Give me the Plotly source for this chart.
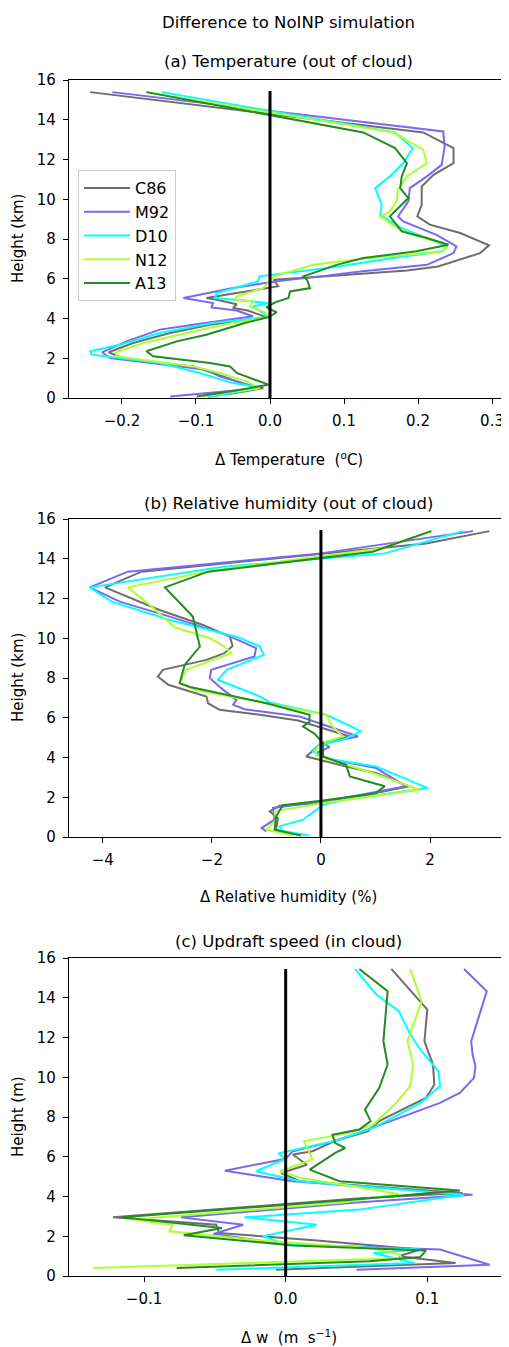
import plotly.graph_objects as go

W, H = 509, 1347
OFF = 8  # the page body margin offsets the figure by this many pixels
FW, FH = W - OFF, H - OFF

names = ["C86", "M92", "D10", "N12", "A13"]
colors = ["#6e6e6e", "#7b68ee", "#00ffff", "#adff2f", "#228b22"]

# ---------------- Panel (a): temperature difference (degC) vs height (km)
ta_c86_h = [15.39, 13.36, 12.57, 11.82, 11.23, 10.64, 9.72, 9.14, 8.72, 8.30, 7.68, 7.29, 6.62, 6.42, 6.12, 5.95, 5.62, 5.53, 5.28, 5.03, 4.94, 4.72, 4.53, 4.4, 4.07, 3.69, 3.27, 2.77, 2.30, 1.93, 1.59, 1.26, 0.67, 0.50, 0.17]
ta_c86_x = [-0.243, 0.207, 0.248, 0.248, 0.221, 0.205, 0.205, 0.199, 0.216, 0.257, 0.296, 0.284, 0.227, 0.185, 0.077, 0.005, 0.011, -0.005, -0.045, -0.086, -0.072, -0.045, -0.050, -0.030, -0.005, -0.081, -0.135, -0.185, -0.218, -0.194, -0.104, -0.077, -0.032, -0.009, -0.059]

ta_m92_h = [15.39, 13.41, 12.65, 11.73, 11.15, 10.56, 9.89, 9.14, 8.88, 8.21, 7.63, 7.29, 6.70, 6.37, 6.12, 5.87, 5.53, 5.03, 4.78, 4.56, 4.4, 4.11, 3.69, 3.44, 2.85, 2.30, 2.01, 1.42, 1.09, 0.67, 0.50, 0.08]
ta_m92_x = [-0.213, 0.234, 0.236, 0.232, 0.212, 0.189, 0.187, 0.173, 0.180, 0.225, 0.252, 0.248, 0.212, 0.122, 0.068, 0.009, -0.050, -0.117, -0.077, -0.079, -0.045, -0.023, -0.104, -0.149, -0.194, -0.227, -0.216, -0.086, -0.068, -0.027, -0.014, -0.135]

ta_d10_h = [15.39, 13.36, 12.57, 11.82, 11.15, 10.56, 9.72, 9.22, 8.6, 8.05, 7.63, 7.38, 7.12, 6.6, 6.20, 6.12, 5.87, 5.28, 5.03, 4.85, 4.78, 4.6, 4.07, 3.77, 3.27, 2.68, 2.35, 2.18, 1.76, 1.26, 0.75, 0.62, 0.50, 0.02]
ta_d10_x = [-0.146, 0.169, 0.193, 0.180, 0.162, 0.142, 0.151, 0.149, 0.175, 0.212, 0.239, 0.234, 0.180, 0.090, 0.005, -0.014, -0.016, -0.072, -0.074, -0.025, -0.002, -0.023, 0.000, -0.077, -0.149, -0.203, -0.243, -0.241, -0.149, -0.095, -0.050, -0.027, -0.014, -0.085]

ta_n12_h = [15.39, 13.36, 12.49, 11.82, 11.15, 10.48, 9.89, 9.39, 9.14, 8.6, 8.21, 7.71, 7.38, 7.16, 6.96, 6.70, 6.12, 5.53, 5.11, 4.95, 4.86, 4.6, 4.35, 4.07, 3.69, 3.27, 2.77, 2.30, 2.10, 1.59, 1.26, 0.84, 0.50, 0.08]
ta_n12_x = [-0.167, 0.167, 0.207, 0.212, 0.185, 0.173, 0.171, 0.162, 0.149, 0.170, 0.194, 0.239, 0.234, 0.167, 0.113, 0.059, 0.005, -0.009, -0.045, -0.047, -0.023, -0.027, -0.009, 0.000, -0.063, -0.113, -0.171, -0.209, -0.207, -0.104, -0.068, -0.032, -0.014, -0.095]

ta_a13_h = [15.39, 13.36, 12.57, 11.82, 11.15, 10.56, 10.06, 9.14, 8.38, 8.05, 7.71, 7.38, 7.04, 6.70, 6.12, 5.95, 5.53, 5.36, 5.03, 4.81, 4.56, 4.31, 4.07, 3.77, 3.18, 2.85, 2.35, 2.10, 1.76, 1.59, 1.26, 0.67, 0.35, 0.08]
ta_a13_x = [-0.167, 0.126, 0.169, 0.185, 0.178, 0.176, 0.187, 0.162, 0.178, 0.212, 0.241, 0.198, 0.126, 0.090, 0.045, 0.050, 0.054, 0.027, 0.025, 0.007, -0.005, 0.009, -0.002, -0.034, -0.086, -0.126, -0.167, -0.158, -0.081, -0.054, -0.045, -0.002, -0.050, -0.099]

# ---------------- Panel (b): relative humidity difference (%) vs height (km)
rh_c86_h = [15.39, 14.77, 13.35, 12.56, 11.42, 10.67, 10.08, 9.61, 9.25, 8.91, 8.41, 8.07, 7.66, 7.07, 6.73, 6.40, 6.15, 5.86, 5.06, 4.72, 4.05, 3.55, 3.22, 2.55, 2.1, 1.71, 1.57, 1.29, 0.95, 0.37, 0.10]
rh_c86_x = [3.09, 1.93, -3.29, -3.96, -2.96, -2.16, -1.67, -1.62, -1.77, -2.10, -2.90, -2.99, -2.80, -2.10, -2.07, -1.86, -1.12, -0.42, 0.53, 0.00, -0.27, 0.46, 1.01, 1.62, 0.80, 0.04, -0.76, -0.94, -0.79, -0.82, -0.40]

rh_m92_h = [15.39, 14.27, 13.35, 12.56, 11.84, 11.09, 10.17, 9.50, 9.08, 8.41, 8.00, 7.49, 6.90, 6.65, 6.43, 6.06, 5.06, 4.72, 4.52, 4.22, 3.95, 3.47, 2.55, 1.90, 1.46, 0.87, 0.45, 0.28]
rh_m92_x = [2.79, 0.00, -3.54, -4.24, -3.69, -2.77, -1.73, -1.19, -1.22, -2.01, -2.04, -1.83, -1.55, -1.61, -1.40, -0.39, 0.68, 0.04, 0.16, -0.09, 0.10, 1.01, 1.56, 0.30, -0.88, -0.85, -1.09, -1.00]

rh_d10_h = [15.39, 14.27, 13.60, 12.56, 11.84, 10.92, 10.08, 9.58, 9.16, 8.41, 7.91, 7.07, 6.77, 6.15, 5.31, 4.89, 4.60, 4.30, 3.95, 3.55, 2.46, 1.90, 1.62, 0.87, 0.54, 0.30, 0.07]
rh_d10_x = [2.60, 1.17, -1.80, -4.24, -3.84, -2.77, -1.55, -1.12, -1.05, -1.73, -1.89, -1.12, -0.94, 0.10, 0.74, 0.40, -0.05, -0.15, 0.10, 1.01, 1.96, 0.50, 0.04, -0.33, -0.76, -0.70, -0.21]

rh_n12_h = [15.39, 14.52, 13.40, 12.56, 11.67, 10.55, 10.00, 9.58, 9.25, 8.41, 7.74, 7.40, 6.73, 6.15, 5.60, 5.06, 4.72, 4.35, 4.10, 3.63, 3.22, 2.38, 1.90, 1.71, 1.29, 0.87, 0.37, 0.07]
rh_n12_x = [2.04, 1.08, -2.00, -3.54, -3.14, -2.68, -2.04, -1.77, -1.64, -2.47, -2.59, -2.30, -1.00, 0.10, 0.20, 0.40, 0.00, -0.10, -0.08, 0.49, 0.95, 1.81, 0.60, 0.04, -0.85, -0.82, -1.00, -0.50]

rh_a13_h = [15.39, 14.35, 13.35, 12.56, 11.09, 9.58, 8.66, 7.74, 7.55, 6.73, 6.15, 5.80, 5.56, 5.20, 4.72, 4.05, 3.63, 3.05, 2.55, 2.20, 1.84, 1.60, 1.04, 0.37, 0.07]
rh_a13_x = [2.02, 0.95, -2.07, -2.86, -2.35, -2.22, -2.50, -2.59, -2.40, -1.00, -0.21, -0.21, -0.33, -0.12, 0.04, 0.04, 0.46, 0.53, 1.17, 1.00, 0.04, -0.70, -0.82, -0.85, -0.36]

# ---------------- Panel (c): updraft speed difference (m/s) vs height
w_c86_h = [15.45, 13.41, 11.81, 10.64, 9.63, 8.96, 7.79, 7.28, 6.80, 6.28, 6.11, 5.60, 5.18, 4.77, 4.18, 3.90, 2.95, 2.58, 2.16, 1.80, 1.33, 0.99, 0.65, 0.32]
w_c86_x = [0.0746, 0.100, 0.098, 0.104, 0.105, 0.099, 0.066, 0.058, 0.035, 0.019, 0.005, 0.015, -0.003, 0.010, 0.125, 0.050, -0.122, -0.049, -0.047, 0.020, 0.095, 0.080, 0.120, -0.007]

w_m92_h = [15.45, 14.33, 11.81, 11.14, 10.55, 9.97, 9.21, 8.71, 7.53, 6.80, 6.28, 5.90, 5.30, 4.77, 4.09, 3.70, 2.95, 2.58, 2.11, 1.60, 1.33, 0.82, 0.57, 0.32]
w_m92_x = [0.126, 0.142, 0.131, 0.132, 0.134, 0.133, 0.123, 0.109, 0.064, 0.035, 0.005, 0.000, -0.043, 0.005, 0.132, 0.050, -0.074, -0.030, -0.051, 0.000, 0.109, 0.132, 0.144, 0.050]

w_d10_h = [15.45, 14.16, 13.32, 12.15, 11.31, 10.30, 9.55, 8.70, 7.45, 6.80, 6.16, 5.90, 5.27, 4.77, 4.09, 3.34, 2.95, 2.58, 2.00, 1.60, 1.33, 1.16, 0.65, 0.32]
w_d10_x = [0.049, 0.064, 0.080, 0.088, 0.096, 0.108, 0.109, 0.095, 0.062, 0.035, -0.005, 0.000, -0.021, 0.010, 0.126, 0.052, -0.029, 0.022, -0.016, 0.000, 0.095, 0.062, 0.091, -0.049]

w_n12_h = [15.45, 13.83, 11.81, 10.64, 9.55, 8.70, 7.62, 7.20, 6.78, 5.86, 5.27, 4.95, 4.13, 3.70, 2.84, 2.58, 2.25, 1.80, 1.40, 1.10, 0.91, 0.40]
w_n12_x = [0.088, 0.096, 0.086, 0.090, 0.088, 0.078, 0.062, 0.045, 0.013, 0.019, -0.004, 0.010, 0.080, 0.040, -0.108, -0.080, -0.082, -0.020, 0.060, 0.080, 0.082, -0.136]

w_a13_h = [15.45, 14.33, 11.81, 10.64, 9.46, 8.37, 7.79, 7.37, 7.11, 6.69, 6.44, 6.19, 5.35, 4.77, 4.30, 3.80, 2.95, 2.42, 2.05, 1.54, 1.28, 0.95, 0.74, 0.40]
w_a13_x = [0.052, 0.072, 0.069, 0.072, 0.066, 0.056, 0.060, 0.052, 0.033, 0.035, 0.042, 0.035, 0.017, 0.038, 0.123, 0.040, -0.115, -0.045, -0.072, 0.005, 0.099, 0.095, 0.059, -0.077]

zero_line_h = [0, 15.45]
zero_line_x = [0, 0]

y_ticks = [0, 2, 4, 6, 8, 10, 12, 14, 16]
xa_ticks = [-0.2, -0.1, 0.0, 0.1, 0.2, 0.3]
xa_labels = ["\u22120.2", "\u22120.1", "0.0", "0.1", "0.2", "0.3"]
xb_ticks = [-4, -2, 0, 2]
xb_labels = ["\u22124", "\u22122", "0", "2"]
xc_ticks = [-0.1, 0.0, 0.1]
xc_labels = ["\u22120.1", "0.0", "0.1"]

panels = [
    dict(
        series=[(ta_c86_x, ta_c86_h), (ta_m92_x, ta_m92_h), (ta_d10_x, ta_d10_h), (ta_n12_x, ta_n12_h), (ta_a13_x, ta_a13_h)],
        xrange=[-0.2716, 0.3216], ticks=xa_ticks, labels=xa_labels, top=80, bottom=398,
        title="(a) Temperature (out of cloud)", title_y=61,
        xtitle="\u0394 Temperature  (<sup>o</sup>C)", xtitle_y=459, ytitle="Height (km)",
    ),
    dict(
        series=[(rh_c86_x, rh_c86_h), (rh_m92_x, rh_m92_h), (rh_d10_x, rh_d10_h), (rh_n12_x, rh_n12_h), (rh_a13_x, rh_a13_h)],
        xrange=[-4.62, 3.43], ticks=xb_ticks, labels=xb_labels, top=519, bottom=837,
        title="(b) Relative humidity (out of cloud)", title_y=503,
        xtitle="\u0394 Relative humidity (%)", xtitle_y=897, ytitle="Height (km)",
    ),
    dict(
        series=[(w_c86_x, w_c86_h), (w_m92_x, w_m92_h), (w_d10_x, w_d10_h), (w_n12_x, w_n12_h), (w_a13_x, w_a13_h)],
        xrange=[-0.153, 0.157], ticks=xc_ticks, labels=xc_labels, top=958, bottom=1276,
        title="(c) Updraft speed (in cloud)", title_y=941,
        xtitle="\u0394 w  (m  s<sup>\u22121</sup>)", xtitle_y=1337, ytitle="Height (m)",
    ),
]

FONT = "DejaVu Sans"
fig = go.Figure()
annotations = []
L, R = 69, 508


def px(p):
    return (p - OFF) / FW


def py(p):
    return 1 - (p - OFF) / FH


for i, p in enumerate(panels):
    n = "" if i == 0 else str(i + 1)
    xa, ya = "x" + n, "y" + n
    for k, (xs, hs) in enumerate(p["series"]):
        fig.add_trace(go.Scatter(
            x=xs, y=hs, mode="lines", name=names[k],
            line=dict(color=colors[k], width=2),
            showlegend=(i == 0), xaxis=xa, yaxis=ya,
        ))
    fig.add_trace(go.Scatter(
        x=zero_line_x, y=zero_line_h, mode="lines",
        line=dict(color="black", width=3), showlegend=False, xaxis=xa, yaxis=ya,
    ))
    common = dict(showline=True, linecolor="black", linewidth=1.2, mirror=True,
                  ticks="outside", ticklen=5, tickwidth=1.2, tickcolor="black",
                  showgrid=False, zeroline=False, automargin=False,
                  tickfont=dict(family=FONT, size=15, color="black"))
    fig.layout["xaxis" + n] = dict(
        domain=[px(L), px(R)], range=p["xrange"], anchor=ya,
        tickvals=p["ticks"], ticktext=p["labels"], ticklabelstandoff=4, **common)
    fig.layout["yaxis" + n] = dict(
        domain=[py(p["bottom"]), py(p["top"])], range=[0, 16], anchor=xa,
        tickvals=y_ticks, ticktext=[str(v) for v in y_ticks], ticklabelstandoff=4, **common)
    annotations.append(dict(text=p["title"], x=px((L + R) / 2), y=py(p["title_y"]),
                            xref="paper", yref="paper", showarrow=False,
                            xanchor="center", yanchor="middle",
                            font=dict(family=FONT, size=16.5, color="black")))
    annotations.append(dict(text=p["xtitle"], x=px((L + R) / 2), y=py(p["xtitle_y"]),
                            xref="paper", yref="paper", showarrow=False,
                            xanchor="center", yanchor="middle",
                            font=dict(family=FONT, size=15, color="black")))
    annotations.append(dict(text=p["ytitle"], x=px(18), y=py((p["top"] + p["bottom"]) / 2),
                            xref="paper", yref="paper", showarrow=False, textangle=-90,
                            xanchor="center", yanchor="middle",
                            font=dict(family=FONT, size=15, color="black")))

annotations.append(dict(text="Difference to NoINP simulation", x=px((L + R) / 2), y=py(22),
                        xref="paper", yref="paper", showarrow=False,
                        xanchor="center", yanchor="middle",
                        font=dict(family=FONT, size=16.5, color="black")))

fig.update_layout(
    template="none",
    width=FW, height=FH, margin=dict(l=0, r=0, t=0, b=0, pad=0),
    paper_bgcolor="white", plot_bgcolor="white",
    annotations=annotations,
    legend=dict(x=px(78), y=py(170), xanchor="left", yanchor="top",
                bgcolor="white", bordercolor="#cccccc", borderwidth=1,
                itemwidth=46,
                font=dict(family=FONT, size=16, color="black")),
    showlegend=True,
)

fig.write_html("out.html")
